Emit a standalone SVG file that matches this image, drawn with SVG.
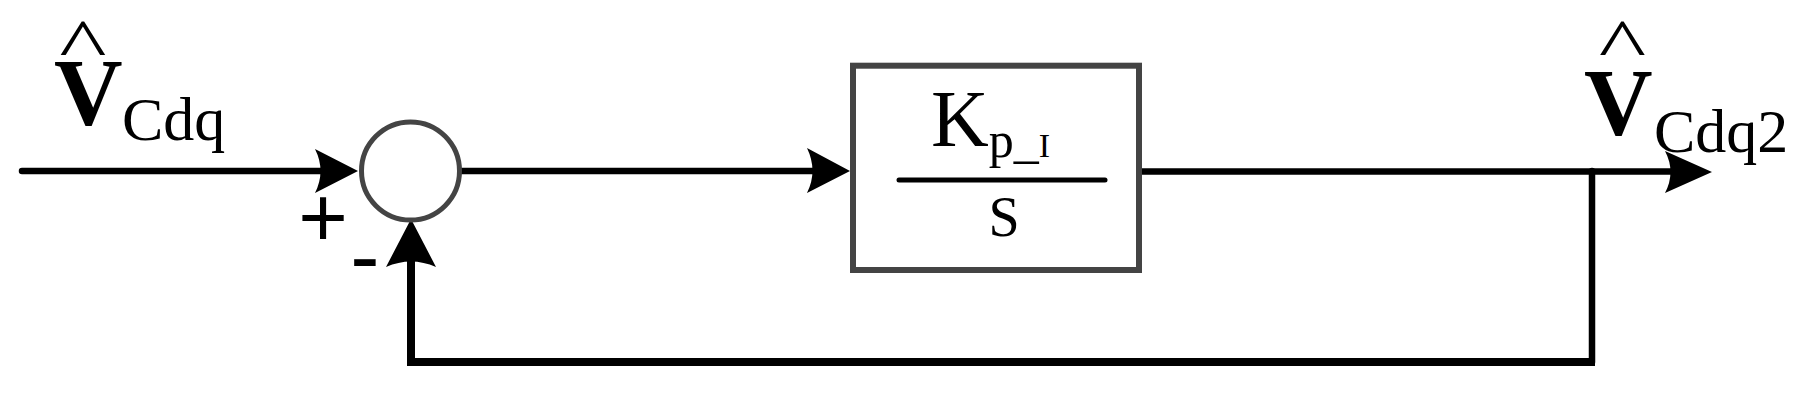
<svg xmlns="http://www.w3.org/2000/svg" width="1809" height="395" viewBox="0 0 1809 395">
<style>
.wire{fill:none;stroke:#000;stroke-width:6.5;stroke-linecap:round;stroke-linejoin:miter}
.fb{stroke-width:8;stroke-linecap:butt}
.arr{fill:#000;stroke:none}
.blk{fill:#fff;stroke:#444;stroke-width:6}
.sum{fill:#fff;stroke:#444;stroke-width:5}
.serif{font-family:"Liberation Serif","Times New Roman",serif;fill:#000}
.sans{font-family:"Liberation Sans",Arial,sans-serif;fill:#000}
</style>
<rect width="1809" height="395" fill="#fff"/>
<g id="connectors">
<line class="wire" x1="22" y1="171" x2="330" y2="171"/>
<path class="arr" d="M358,171 L315,149 Q326,171 315,193 Z"/>
<line class="wire" x1="461" y1="171" x2="820" y2="171"/>
<path class="arr" d="M850,171 L807,148 Q818,171 807,193 Z"/>
<line class="wire" x1="1142" y1="171.5" x2="1680" y2="171.5"/>
<path class="arr" d="M1712,172 L1665,151 Q1676,172 1665,193 Z"/>
<line class="wire" x1="1592" y1="171" x2="1592" y2="362" stroke-linecap="butt"/>
<polyline class="wire fb" points="1595,362 411,362 411,250"/>
<path class="arr" d="M411,219 L386,267 Q411,256 436,267 Z"/>
</g>
<g id="sum">
<circle class="sum" cx="410.5" cy="171" r="49"/>
<text class="sans" x="323" y="247" font-size="85" text-anchor="middle">+</text>
<text class="sans" x="365" y="286" font-size="88" text-anchor="middle">-</text>
</g>
<g id="block">
<rect class="blk" x="853" y="65.7" width="286" height="204.3"/>
<text class="serif" x="931" y="146" font-size="80">K<tspan font-size="50" y="156.7">p_</tspan><tspan font-size="34" y="156.7">I</tspan></text>
<line x1="899" y1="180" x2="1105" y2="180" stroke="#000" stroke-width="5" stroke-linecap="round"/>
<text class="serif" x="1004" y="236" font-size="56" text-anchor="middle">S</text>
</g>
<g id="input-label">
<text class="serif" transform="translate(83,69) scale(1.4,1)" font-size="72" text-anchor="middle">^</text>
<text class="serif" x="54" y="125" font-size="95" font-weight="bold">V</text>
<text class="serif" x="122" y="140" font-size="62">Cdq</text>
</g>
<g id="output-label">
<text class="serif" transform="translate(1622.5,69) scale(1.4,1)" font-size="72" text-anchor="middle">^</text>
<text class="serif" x="1584" y="135" font-size="95" font-weight="bold">V</text>
<text class="serif" x="1654" y="151.7" font-size="62">Cdq2</text>
</g>
</svg>
